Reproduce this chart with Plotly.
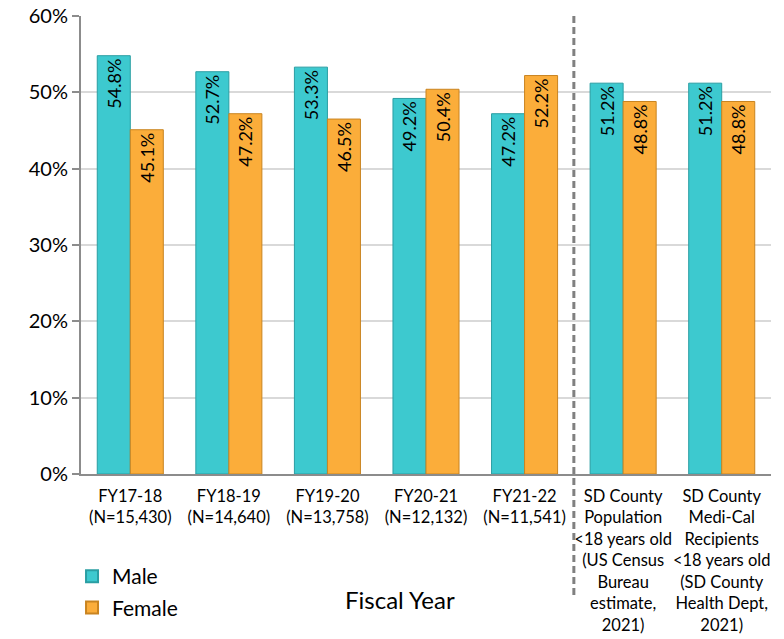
import plotly.graph_objects as go

categories = [
    "FY17-18<br>(N=15,430)",
    "FY18-19<br>(N=14,640)",
    "FY19-20<br>(N=13,758)",
    "FY20-21<br>(N=12,132)",
    "FY21-22<br>(N=11,541)",
    "SD County<br>Population<br><18 years old<br>(US Census<br>Bureau<br>estimate,<br>2021)",
    "SD County<br>Medi-Cal<br>Recipients<br><18 years old<br>(SD County<br>Health Dept,<br>2021)",
]
male = [54.8, 52.7, 53.3, 49.2, 47.2, 51.2, 51.2]
female = [45.1, 47.2, 46.5, 50.4, 52.2, 48.8, 48.8]
y_ticks = [0, 10, 20, 30, 40, 50, 60]
y_tick_labels = ["0%", "10%", "20%", "30%", "40%", "50%", "60%"]

FONT = "Lato, 'Open Sans', sans-serif"
xs = list(range(len(categories)))

fig = go.Figure()
fig.add_trace(go.Bar(
    x=xs, y=male, name="Male", legendgroup="m",
    marker=dict(color="#3DC9CF", line=dict(color="#2A9EA3", width=1)),
    text=[f"{v:.1f}%" for v in male], textposition="inside",
    insidetextanchor="end", textangle=-90,
    textfont=dict(family=FONT, size=18, color="black"),
))
fig.add_trace(go.Bar(
    x=xs, y=female, name="Female", legendgroup="f",
    marker=dict(color="#FBAD3A", line=dict(color="#C98420", width=1)),
    text=[f"{v:.1f}%" for v in female], textposition="inside",
    insidetextanchor="end", textangle=-90,
    textfont=dict(family=FONT, size=18, color="black"),
))

fig.add_shape(type="line", xref="x", yref="paper", x0=4.5, x1=4.5, y0=1.0, y1=-0.264,
              line=dict(color="#808080", width=3, dash="7px,4px"))

fig.add_annotation(text="Fiscal Year", xref="paper", yref="paper", x=0.462, y=-0.275,
                   showarrow=False, font=dict(family=FONT, size=24, color="black"),
                   xanchor="center", yanchor="middle")

fig.update_layout(
    width=784, height=639,
    margin=dict(l=81, r=13, t=16, b=165, autoexpand=False),
    paper_bgcolor="white", plot_bgcolor="white",
    barmode="group", bargap=0.33, bargroupgap=0,
    font=dict(family=FONT, color="black"),
    showlegend=True,
    legend=dict(orientation="v", x=-0.013, y=-0.179, xanchor="left", yanchor="top",
                font=dict(family=FONT, size=21, color="black"),
                itemsizing="constant", tracegroupgap=1, bgcolor="rgba(0,0,0,0)"),
    xaxis=dict(
        tickmode="array", tickvals=xs, ticktext=categories, tickangle=0,
        range=[-0.5, len(categories) - 0.5],
        showline=True, linecolor="#8C8C8C", linewidth=2,
        ticks="", showgrid=False, zeroline=False, automargin=False,
        ticklabelstandoff=6, ticklabeloverflow="allow",
        tickfont=dict(family=FONT, size=16.5, color="black"),
    ),
    yaxis=dict(
        range=[0, 60], tickmode="array", tickvals=y_ticks, ticktext=y_tick_labels,
        showline=True, linecolor="#8C8C8C", linewidth=2,
        ticks="outside", ticklen=7, tickcolor="#8C8C8C", tickwidth=2,
        showgrid=True, gridcolor="#D9D9D9", gridwidth=2,
        zeroline=False, automargin=False, ticklabeloverflow="allow",
        tickfont=dict(family=FONT, size=20, color="black"),
    ),
)

fig.write_html("out.html", config={"displayModeBar": False},
               post_script="document.body.style.margin='0';")
